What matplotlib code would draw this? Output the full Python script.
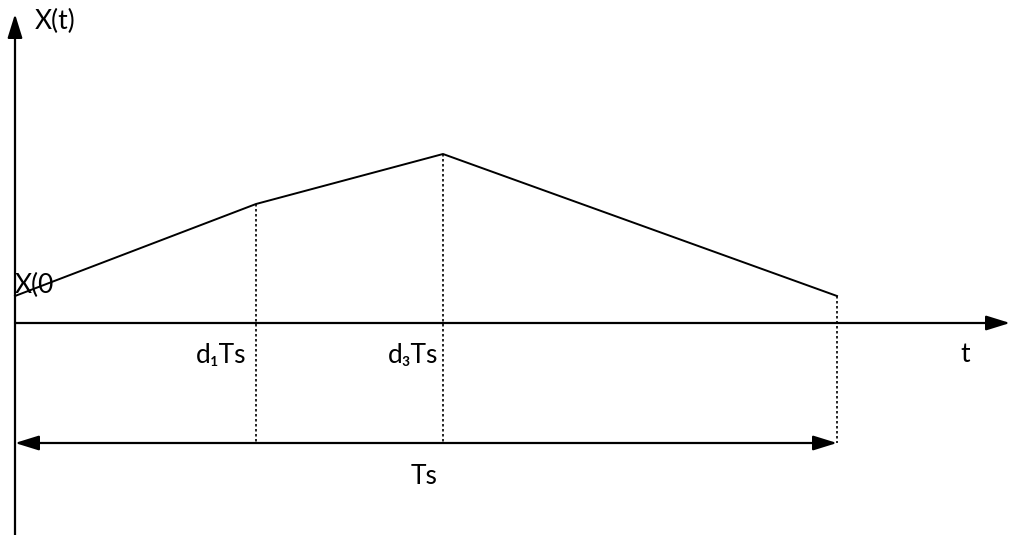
import matplotlib as mpl
mpl.use('Agg')
import matplotlib.pyplot as plt

plt.rcParams['font.family'] = ['Lato', 'DejaVu Sans']

# corner times of the waveform and its values (origin at the axes crossing)
t_pts = [0, 241, 428, 822]
x_pts = [27, 119, 169, 27]
t_labels = ['', 'd\u2081Ts', 'd\u2083Ts', '']
period_label = 'Ts'
t_end = 995
y_top = 309
y_bottom = -212
ts_level = -120

fig = plt.figure(figsize=(10.1, 5.35), dpi=100)
ax = fig.add_axes([0, 0, 1, 1])
ax.set_xlim(-15, 995)
ax.set_ylim(-212, 323)
ax.axis('off')

head = dict(arrowstyle='-|>,head_length=1.45,head_width=0.45', color='black',
            lw=1.6, shrinkA=0, shrinkB=0)
# axes
ax.annotate('', xy=(0, y_top), xytext=(0, y_bottom), arrowprops=head)
ax.annotate('', xy=(t_end, 0), xytext=(0, 0), arrowprops=head)

# waveform
ax.plot(t_pts, x_pts, color='black', lw=1.4)

# dotted markers down to the period arrow
for t, x in zip(t_pts[1:], x_pts[1:]):
    ax.plot([t, t], [x, ts_level], color='black', lw=1.2, linestyle=(0, (1.5, 1.5)))

# period arrow
ax.annotate('', xy=(0, ts_level), xytext=(t_pts[-1], ts_level),
            arrowprops=dict(arrowstyle='<|-|>,head_length=1.45,head_width=0.45',
                            color='black', lw=1.6, shrinkA=0, shrinkB=0))

fs = 19
ax.text(20, 302, 'X(t)', fontsize=fs, va='center', ha='left')
ax.text(0, 38, 'X(0', fontsize=fs, va='center', ha='left')
ax.text(181, -32, t_labels[1], fontsize=fs, va='center', ha='left')
ax.text(373, -32, t_labels[2], fontsize=fs, va='center', ha='left')
ax.text(945, -32, 't', fontsize=fs, va='center', ha='left')
ax.text(409, -154, period_label, fontsize=fs, va='center', ha='center')

fig.savefig('out.png', dpi=100)
